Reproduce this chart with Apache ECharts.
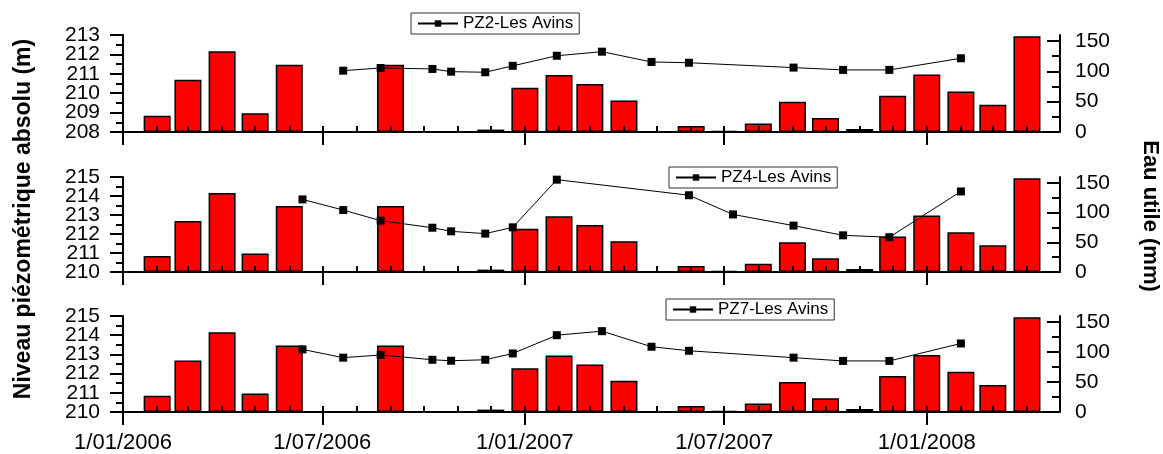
<!DOCTYPE html>
<html>
<head>
<meta charset="utf-8">
<script src="https://cdn.jsdelivr.net/npm/echarts@6/dist/echarts.min.js"></script>
<style>
  html, body { margin: 0; padding: 0; background: #fff; }
  #chart { width: 1163px; height: 454px; }
</style>
</head>
<body>
<div id="chart"></div>
<script>
// monthly "Eau utile" (mm), bars at the first of each month
const barDates = ['2006-02-01', '2006-03-01', '2006-04-01', '2006-05-01', '2006-06-01', '2006-07-01',
  '2006-08-01', '2006-09-01', '2006-10-01', '2006-11-01', '2006-12-01', '2007-01-01', '2007-02-01',
  '2007-03-01', '2007-04-01', '2007-05-01', '2007-06-01', '2007-07-01', '2007-08-01', '2007-09-01',
  '2007-10-01', '2007-11-01', '2007-12-01', '2008-01-01', '2008-02-01', '2008-03-01', '2008-04-01'];
const eauUtile = [27, 86, 133, 31, 111, 0, 0, 111, 0, 0, 4, 73, 94, 79, 52, 0, 10, 2, 14, 50, 23, 5, 60, 95, 67, 45, 158];

// piezometric levels (m)
const pz2Dates = ['2006-07-20', '2006-08-23', '2006-10-09', '2006-10-26', '2006-11-26', '2006-12-21',
  '2007-01-30', '2007-03-12', '2007-04-26', '2007-05-30', '2007-09-02', '2007-10-17', '2007-11-28', '2008-02-01'];
const pz2Level = [211.16, 211.30, 211.25, 211.11, 211.08, 211.41, 211.93, 212.14, 211.61, 211.57, 211.32, 211.20, 211.20, 211.80];

const pz4Dates = ['2006-06-13', '2006-07-20', '2006-08-23', '2006-10-09', '2006-10-26', '2006-11-26',
  '2006-12-21', '2007-01-30', '2007-05-30', '2007-07-09', '2007-09-02', '2007-10-17', '2007-11-28', '2008-02-01'];
const pz4Level = [213.82, 213.26, 212.70, 212.33, 212.14, 212.02, 212.35, 214.86, 214.04, 213.03, 212.44, 211.93, 211.83, 214.24];

const pz7Dates = ['2006-06-13', '2006-07-20', '2006-08-23', '2006-10-09', '2006-10-26', '2006-11-26',
  '2006-12-21', '2007-01-30', '2007-03-12', '2007-04-26', '2007-05-30', '2007-09-02', '2007-10-17', '2007-11-28', '2008-02-01'];
const pz7Level = [213.26, 212.83, 212.97, 212.72, 212.67, 212.72, 213.05, 214.00, 214.21, 213.40, 213.19, 212.83, 212.66, 212.66, 213.57];

// axis ticks
const xStart = '2006-01-01';
const xEnd = '2008-05-01';
const majorTicks = ['2006-01-01', '2006-07-01', '2007-01-01', '2007-07-01', '2008-01-01'];
const pz2Ticks = [208, 209, 210, 211, 212, 213];
const pz4Ticks = [210, 211, 212, 213, 214, 215];
const pz7Ticks = [210, 211, 212, 213, 214, 215];
const rightTicks = [0, 50, 100, 150];
const rightMinorTicks = [25, 75, 125];

const FONT = '"Liberation Sans", Arial, sans-serif';

// dates -> timestamps, placed on a value axis
const t = (s) => {
  const [y, m, d] = s.split('-').map(Number);
  return new Date(y, m - 1, d).getTime();
};

const monthTicks = [];
for (let d = new Date(2006, 0, 1); d.getTime() <= t(xEnd); d.setMonth(d.getMonth() + 1)) {
  monthTicks.push(d.getTime());
}

const fmtDate = (v) => {
  const d = new Date(v);
  return '1/' + String(d.getMonth() + 1).padStart(2, '0') + '/' + d.getFullYear();
};

const panels = [
  { name: 'PZ2-Les Avins', dates: pz2Dates, values: pz2Level, ticks: pz2Ticks, top: 35, height: 97, legendLeft: 411, legendTop: 13 },
  { name: 'PZ4-Les Avins', dates: pz4Dates, values: pz4Level, ticks: pz4Ticks, top: 177, height: 95, legendLeft: 669, legendTop: 167 },
  { name: 'PZ7-Les Avins', dates: pz7Dates, values: pz7Level, ticks: pz7Ticks, top: 316, height: 96, legendLeft: 666, legendTop: 299 }
];

const lineStyle = () => ({ color: '#000', width: 2 });
const tickFont = () => ({ fontSize: 21, color: '#000', fontFamily: FONT });
const Y_PER_PANEL = 4;

const grid = [], xAxis = [], yAxis = [], series = [], legend = [];

panels.forEach((p, i) => {
  const last = i === panels.length - 1;
  const yMin = p.ticks[0], yMax = p.ticks[p.ticks.length - 1];
  grid.push({ left: 123, right: 103, top: p.top, height: p.height });

  // data axis with the half-year ticks
  xAxis.push({
    type: 'value', gridIndex: i, min: t(xStart), max: t(xEnd), z: 10,
    axisLine: { show: true, onZero: false, lineStyle: lineStyle() },
    axisTick: { show: true, customValues: majorTicks.map(t), length: 13, lineStyle: lineStyle() },
    axisLabel: Object.assign(tickFont(), {
      show: last, customValues: majorTicks.map(t), formatter: fmtDate,
      showMinLabel: true, showMaxLabel: true, fontSize: 22, margin: 20
    }),
    splitLine: { show: false }
  });
  // monthly ticks
  xAxis.push({
    type: 'value', gridIndex: i, min: t(xStart), max: t(xEnd), z: 10,
    axisLine: { show: false },
    axisTick: { show: true, customValues: monthTicks, length: 6, lineStyle: lineStyle() },
    axisLabel: { show: false },
    splitLine: { show: false }
  });

  // left axis: line, ticks and every other label; a twin axis carries the other labels
  yAxis.push({
    type: 'value', gridIndex: i, position: 'left', min: yMin, max: yMax, interval: 1, z: 10,
    axisLine: { show: true, onZero: false, lineStyle: lineStyle() },
    axisTick: { show: true, length: 13, lineStyle: lineStyle() },
    minorTick: { show: true, splitNumber: 2, length: 7, lineStyle: lineStyle() },
    axisLabel: Object.assign(tickFont(), {
      customValues: p.ticks.filter((v, k) => k % 2 === 0), showMinLabel: true, showMaxLabel: true, margin: 23
    }),
    splitLine: { show: false }
  });
  yAxis.push({
    type: 'value', gridIndex: i, position: 'left', min: yMin, max: yMax, z: 10,
    axisLine: { show: false },
    axisTick: { show: false },
    axisLabel: Object.assign(tickFont(), {
      customValues: p.ticks.filter((v, k) => k % 2 === 1), showMinLabel: true, showMaxLabel: true, margin: 23
    }),
    splitLine: { show: false }
  });
  yAxis.push({
    type: 'value', gridIndex: i, position: 'right', min: 0, max: 160, z: 10,
    axisLine: { show: true, onZero: false, lineStyle: lineStyle() },
    axisTick: { show: true, inside: true, customValues: rightTicks, length: 13, lineStyle: lineStyle() },
    axisLabel: Object.assign(tickFont(), { customValues: rightTicks, showMinLabel: true, margin: 15 }),
    splitLine: { show: false }
  });
  yAxis.push({
    type: 'value', gridIndex: i, position: 'right', min: 0, max: 160, z: 10,
    axisLine: { show: false },
    axisTick: { show: true, inside: true, customValues: rightMinorTicks, length: 8, lineStyle: lineStyle() },
    axisLabel: { show: false },
    splitLine: { show: false }
  });

  series.push({
    name: 'Eau utile', type: 'bar', xAxisIndex: 2 * i, yAxisIndex: Y_PER_PANEL * i + 2,
    data: barDates.map((d, k) => [t(d), eauUtile[k]]),
    barWidth: 27,
    itemStyle: { color: '#ff0000', borderColor: '#000', borderWidth: 1.5 },
    z: 2
  });
  series.push({
    name: p.name, type: 'line', xAxisIndex: 2 * i, yAxisIndex: Y_PER_PANEL * i,
    data: p.dates.map((d, k) => [t(d), p.values[k]]),
    symbol: 'rect', symbolSize: 8,
    itemStyle: { color: '#000' },
    lineStyle: { color: '#000', width: 1 },
    z: 5
  });

  legend.push({
    data: [p.name], left: p.legendLeft, top: p.legendTop,
    orient: 'horizontal', itemWidth: 40, itemHeight: 8,
    padding: [2, 6], borderColor: '#333', borderWidth: 1,
    textStyle: { fontSize: 17, color: '#000', fontFamily: FONT },
    selectedMode: false
  });
});

const chart = echarts.init(document.getElementById('chart'));
chart.setOption({
  animation: false,
  backgroundColor: '#fff',
  grid, xAxis, yAxis, series, legend,
  graphic: [
    {
      type: 'text', x: 24, y: 219, rotation: Math.PI / 2,
      style: {
        text: 'Niveau piézométrique absolu (m)', fontSize: 23, fontWeight: 'bold',
        fontFamily: FONT, fill: '#000', align: 'center', verticalAlign: 'middle'
      }
    },
    {
      type: 'text', x: 1150, y: 216, rotation: -Math.PI / 2,
      style: {
        text: 'Eau utile (mm)', fontSize: 22, fontWeight: 'bold',
        fontFamily: FONT, fill: '#000', align: 'center', verticalAlign: 'middle'
      }
    }
  ]
});
</script>
</body>
</html>
